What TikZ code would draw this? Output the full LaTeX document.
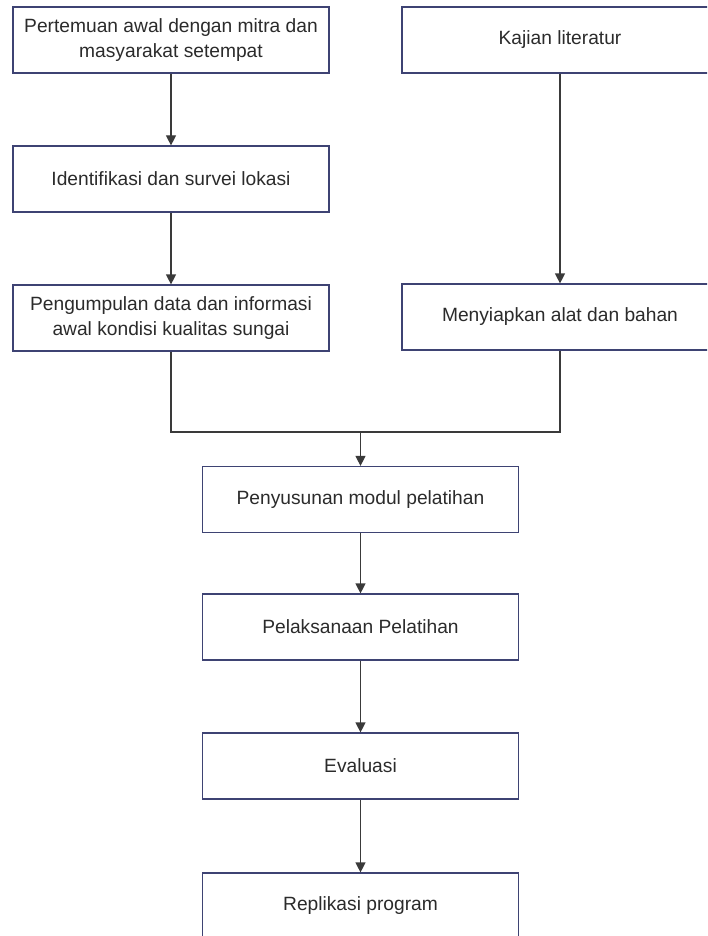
\documentclass[tikz,border=0pt]{standalone}
\usepackage{fontspec}
\setmainfont{Liberation Sans}
\usetikzlibrary{arrows.meta}

\definecolor{boxline}{HTML}{3E4373}
\definecolor{linkline}{HTML}{3A3A3A}
\definecolor{txt}{HTML}{2B2B2B}

\begin{document}
\begin{tikzpicture}[
    x=0.5pt, y=-0.5pt,
    stepbox/.style={rectangle, draw=boxline, line width=0.6pt, fill=white,
        minimum width=158pt, minimum height=33pt, align=center,
        text=txt, font=\fontsize{9.6}{12.4}\selectfont, inner sep=2pt},
    link/.style={draw=linkline, line width=0.6pt},
    arr/.style={link, -{Triangle[width=5pt,length=5pt]}}
]

    \clip (0,0) rectangle (707,936);
    \useasboundingbox (0,0) rectangle (707,936);

    \node[stepbox] (B1) at (171,40) {Pertemuan awal dengan mitra dan\\masyarakat setempat};
    \node[stepbox] (B2) at (560,40) {Kajian literatur};

    \node[stepbox] (B3) at (171,179) {Identifikasi dan survei lokasi};

    \node[stepbox] (B4) at (171,318) {Pengumpulan data dan informasi\\awal kondisi kualitas sungai};
    \node[stepbox] (B5) at (560,317) {Menyiapkan alat dan bahan};

    \coordinate (J) at (360.5,432);

    \node[stepbox] (B6) at (360.5,499.5) {Penyusunan modul pelatihan};
    \node[stepbox] (B7) at (360.5,627) {Pelaksanaan Pelatihan};
    \node[stepbox] (B8) at (360.5,766) {Evaluasi};
    \node[stepbox] (B9) at (360.5,906) {Replikasi program};

    \draw[arr] (B1) -- (B3);
    \draw[arr] (B3) -- (B4);
    \draw[arr] (B2) -- (B5);

    \draw[link] (B4.south) |- (J);
    \draw[link] (B5.south) |- (J);
    \draw[arr] (J) -- (B6);

    \draw[arr] (B6) -- (B7);
    \draw[arr] (B7) -- (B8);
    \draw[arr] (B8) -- (B9);

\end{tikzpicture}
\end{document}
